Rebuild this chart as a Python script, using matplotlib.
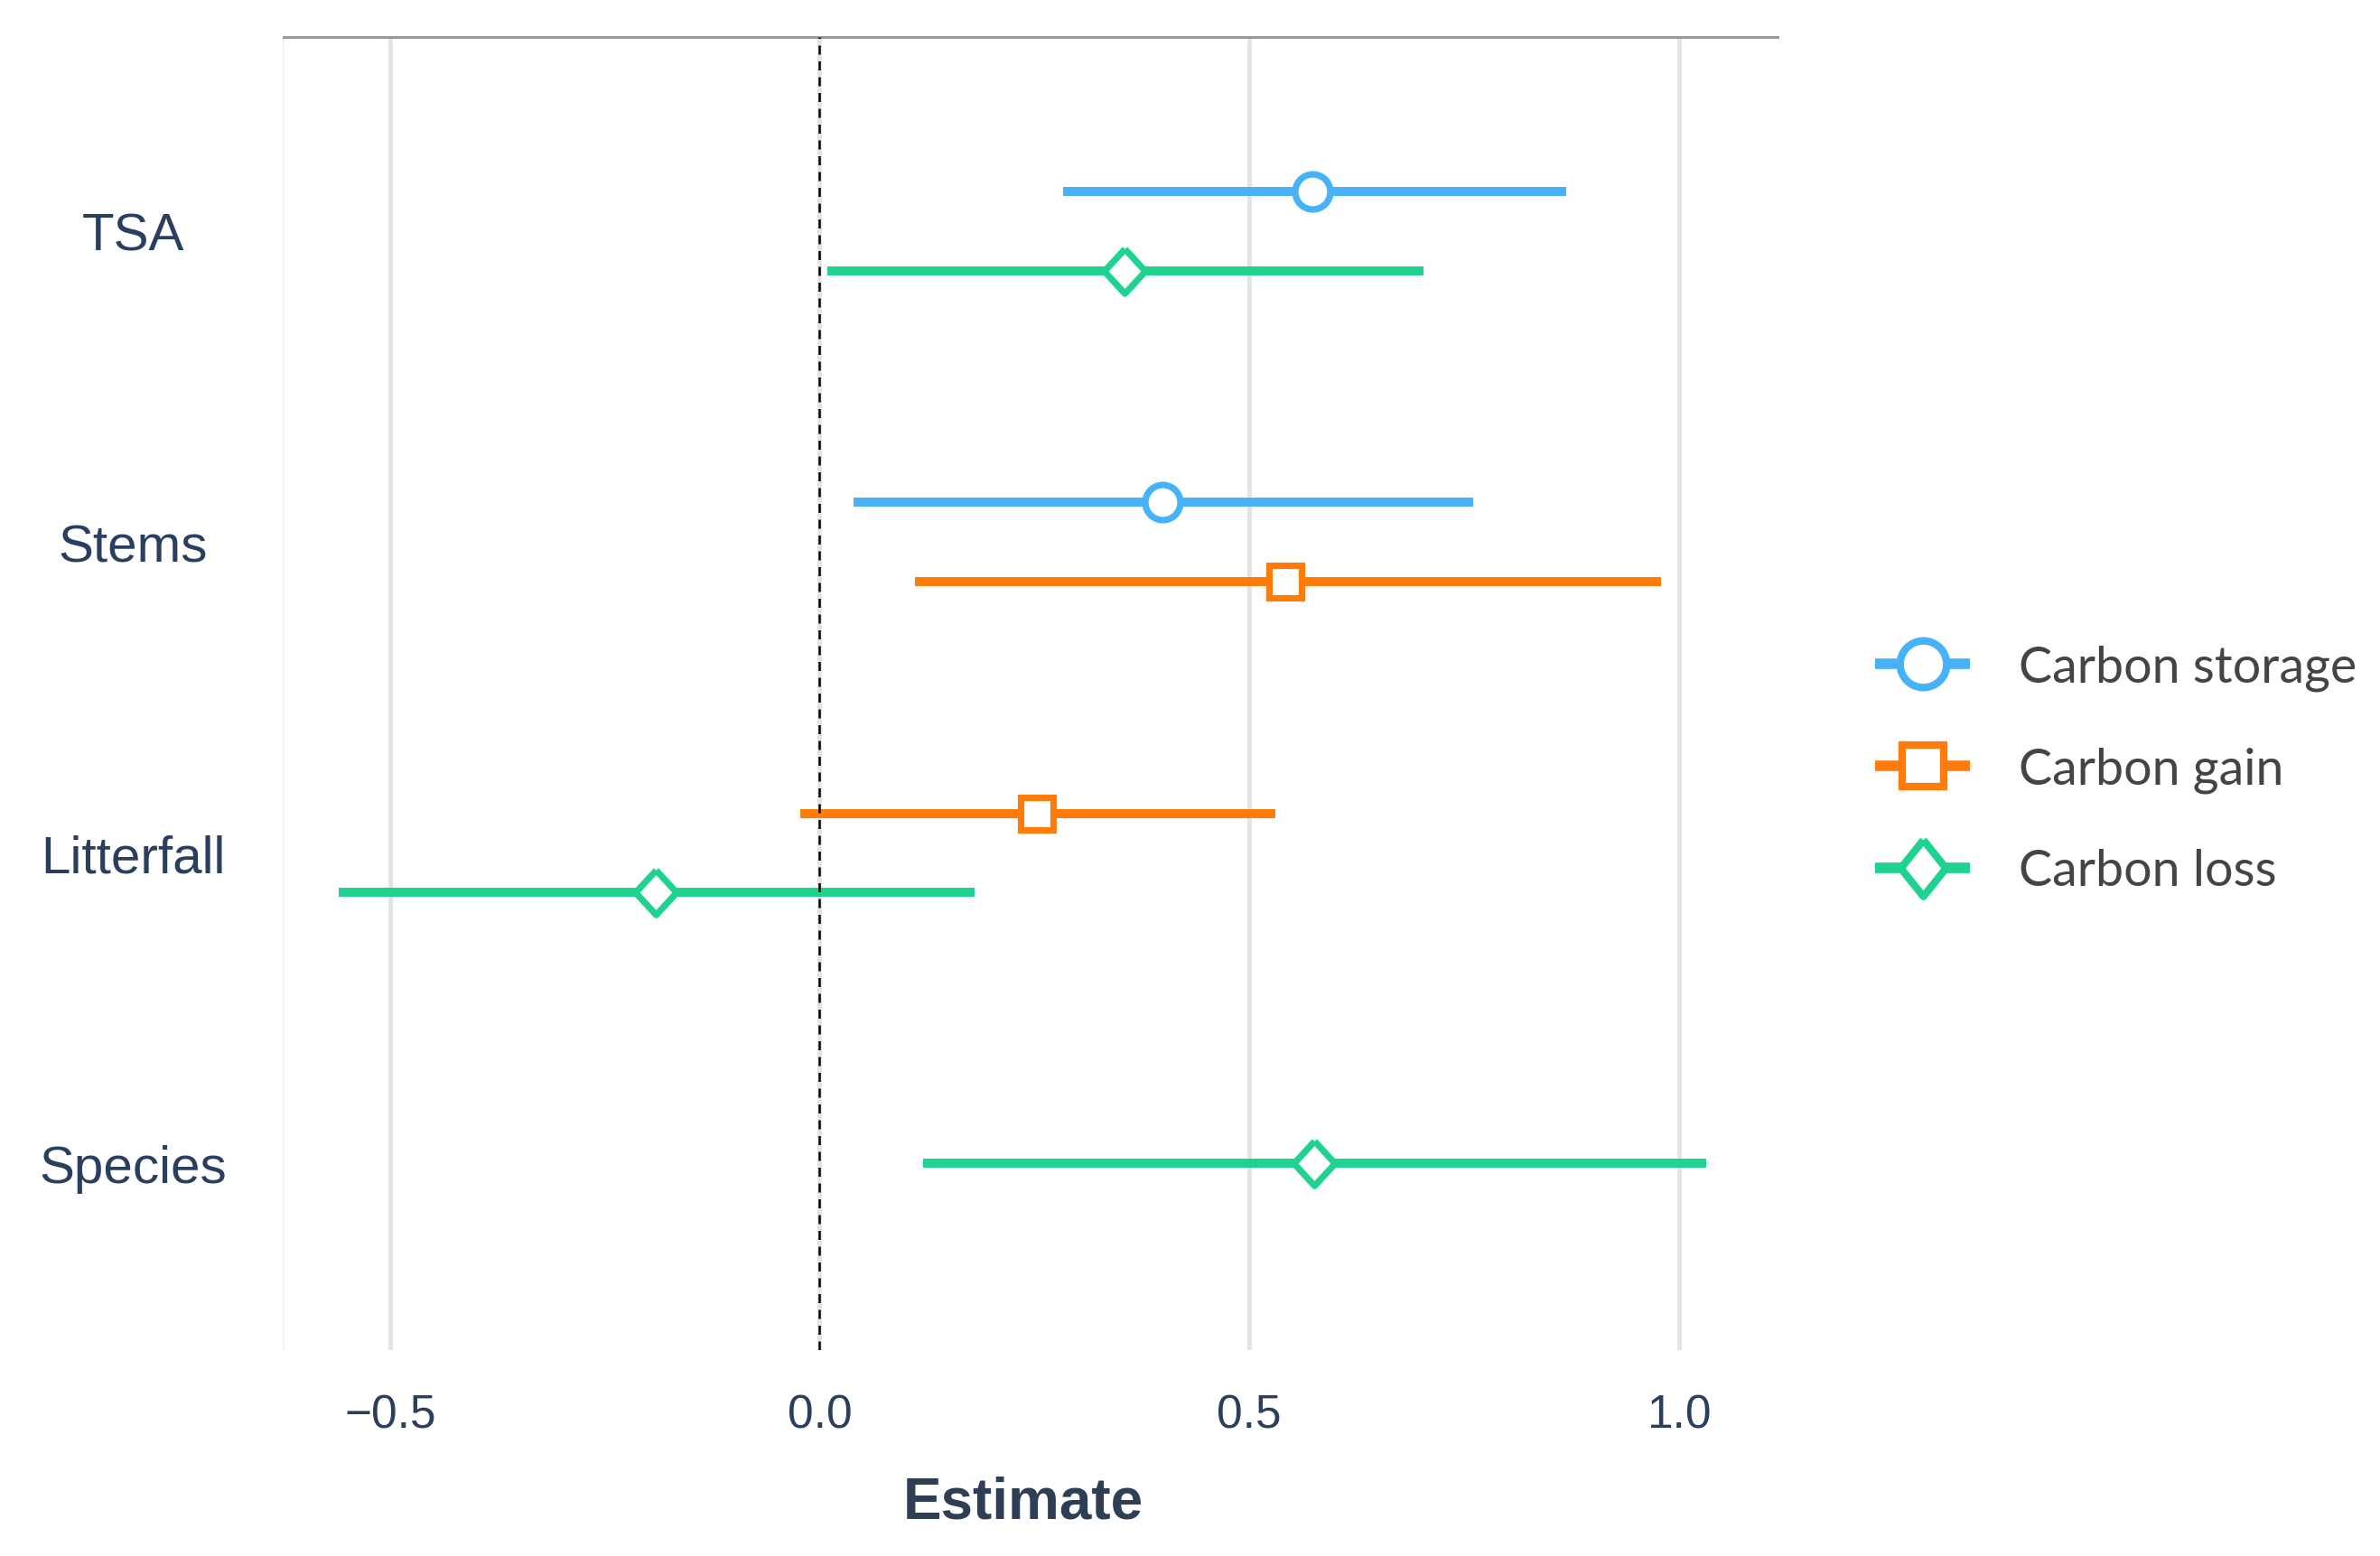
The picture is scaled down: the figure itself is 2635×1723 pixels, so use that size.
import matplotlib
matplotlib.use("Agg")
import matplotlib.pyplot as plt
from matplotlib.lines import Line2D

# ---- data ----
categories = ["TSA", "Stems", "Litterfall", "Species"]
series = ["Carbon storage", "Carbon gain", "Carbon loss"]

# estimate, lower, upper per category (None = absent)
storage_est = [0.574, 0.399, None, None]
storage_lo = [0.283, 0.039, None, None]
storage_hi = [0.869, 0.761, None, None]

gain_est = [None, 0.542, 0.253, None]
gain_lo = [None, 0.111, -0.023, None]
gain_hi = [None, 0.979, 0.530, None]

loss_est = [0.355, None, -0.191, 0.576]
loss_lo = [0.009, None, -0.560, 0.120]
loss_hi = [0.703, None, 0.180, 1.032]

xticks = [-0.5, 0.0, 0.5, 1.0]
xticklabels = ["\u22120.5", "0.0", "0.5", "1.0"]

colors = ["#47B2F7", "#FF7B0A", "#1ED38F"]


def diamond(ratio):
    return [(0, 1), (ratio, 0), (0, -1), (-ratio, 0), (0, 1)]


markers = ["o", "s", diamond(0.92)]
msizes = [14.0, 13.2, 17.8]
leg_markers = ["o", "s", diamond(0.8)]
leg_msizes = [18.6, 16.8, 22.5]

est = [storage_est, gain_est, loss_est]
lo = [storage_lo, gain_lo, loss_lo]
hi = [storage_hi, gain_hi, loss_hi]

DPI = 200
fig = plt.figure(figsize=(2635 / DPI, 1724 / DPI), dpi=DPI)
ax = fig.add_axes([314 / 2635, 1 - 1496 / 1724, (1968 - 314) / 2635, (1496 - 42) / 1724])

ypos = {c: len(categories) - i for i, c in enumerate(categories)}
dodge = 0.127

for ci, cat in enumerate(categories):
    present = [s for s in range(len(series)) if est[s][ci] is not None]
    n = len(present)
    for k, s in enumerate(present):
        y = ypos[cat] + ((n - 1) / 2 - k) * 2 * dodge
        ax.plot([lo[s][ci], hi[s][ci]], [y, y], color=colors[s], lw=3.6,
                solid_capstyle="butt", zorder=3)
        ax.plot([est[s][ci]], [y], marker=markers[s], ms=msizes[s], mew=2.6,
                mec=colors[s], mfc="white", linestyle="none", zorder=4)

ax.axvline(0, color="black", lw=0.9, linestyle=(0, (4, 3)), zorder=5)

ax.set_xlim(-0.624, 1.115)
ax.set_ylim(0.4, 4.624)
ax.set_xticks(xticks)
ax.set_xticklabels(xticklabels)
ax.set_yticks([ypos[c] for c in categories])
ax.set_yticklabels(categories)
ax.grid(axis="x", color="#e4e4e4", lw=1.8, zorder=0)
ax.set_axisbelow(True)

for sp in ["right", "bottom"]:
    ax.spines[sp].set_visible(False)
ax.spines["top"].set_color("#999999")
ax.spines["top"].set_linewidth(1.1)
ax.spines["left"].set_color("#f2f2f2")
ax.spines["left"].set_linewidth(0.8)

tick_color = "#2A3F5F"
ax.tick_params(axis="x", length=0, pad=17, labelsize=18.5, labelcolor=tick_color)
ax.tick_params(axis="y", length=0, pad=60, labelsize=21, labelcolor=tick_color)
for t in ax.get_xticklabels() + ax.get_yticklabels():
    t.set_fontfamily("Liberation Sans")
for t in ax.get_yticklabels():
    t.set_horizontalalignment("center")

ax.set_xlabel("Estimate", fontsize=23, fontweight="bold", color="#2E3F55",
              fontfamily="Liberation Sans")
ax.xaxis.set_label_coords((1133 - 314) / (1968 - 314), -0.116)
ax.xaxis.label.set_verticalalignment("center")

handles = [Line2D([0], [0], color=colors[s], lw=4.2, marker=leg_markers[s],
                  ms=leg_msizes[s], mew=3, mec=colors[s], mfc="white",
                  solid_capstyle="butt")
           for s in range(len(series))]
leg = fig.legend(handles, series, loc="center left",
                 bbox_to_anchor=(2026 / 2635, 1 - 853 / 1724),
                 frameon=False, handlelength=1.89, handletextpad=0.97,
                 labelspacing=1.1, prop={"family": "Lato", "size": 20})
for t in leg.get_texts():
    t.set_color("#444444")

fig.savefig("out.png", dpi=DPI, facecolor="white")
